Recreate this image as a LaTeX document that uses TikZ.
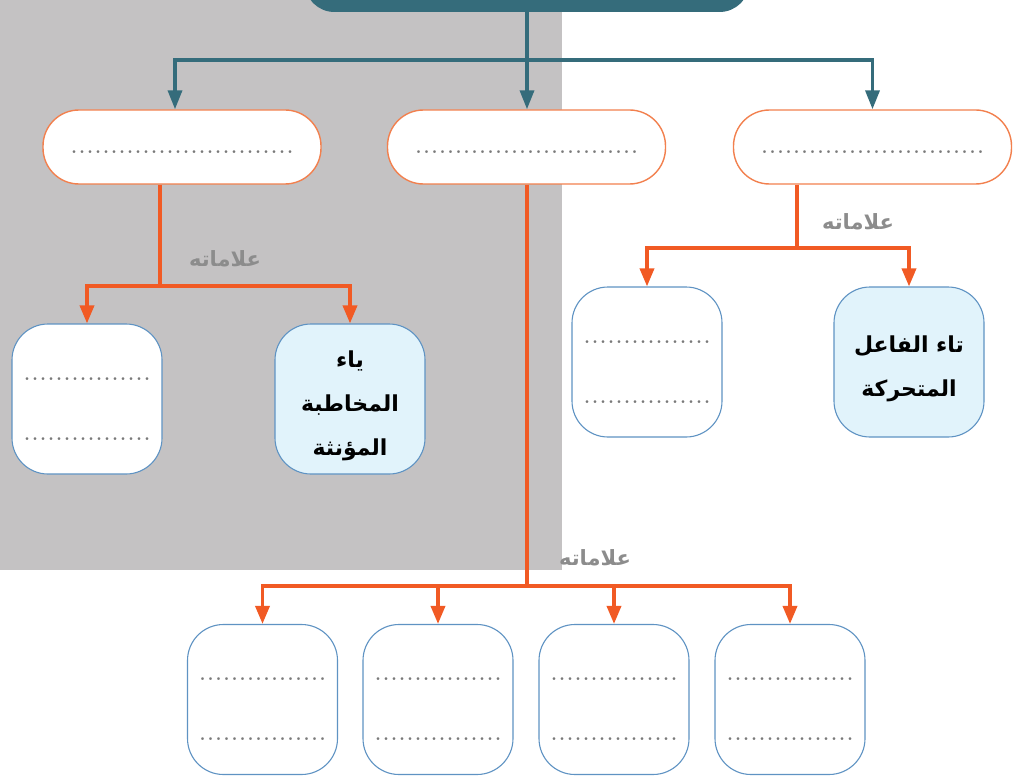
\documentclass[tikz,border=0pt]{standalone}
\usepackage{fontspec}
\usetikzlibrary{arrows.meta,calc}
\newfontfamily\arabicfont[Script=Arabic]{DejaVu Sans}
\TeXXeTstate=1
\newcommand{\ar}[1]{\beginR#1\endR}
\newcommand{\dotrow}[1]{\foreach \k in {1,...,#1}{\makebox[8pt]{.}}}
\newcommand{\lift}{\rule{0pt}{31pt}}
\definecolor{tealdark}{HTML}{356C7B}
\definecolor{bggray}{HTML}{C4C2C3}
\definecolor{orangeline}{HTML}{F15A24}
\definecolor{orangeedge}{HTML}{F2804E}
\definecolor{blueedge}{HTML}{5F93C3}
\definecolor{bluefill}{HTML}{E1F3FB}
\definecolor{labelgray}{HTML}{8C8C8C}
\definecolor{dotgray}{HTML}{7A7A7A}

\begin{document}
\begin{tikzpicture}[x=1pt, y=-1pt,
    rootbox/.style={fill=tealdark, rounded corners=30pt, minimum width=445pt, minimum height=64pt},
    pill/.style={draw=orangeedge, line width=1.4pt, fill=white, rounded corners=36pt, minimum width=278pt, minimum height=74pt},
    card/.style={draw=blueedge, line width=1.1pt, fill=white, rounded corners=36pt, minimum width=150pt, minimum height=150pt, inner sep=0pt},
    answer/.style={card, fill=bluefill, font=\arabicfont\bfseries\fontsize{22}{44}\selectfont, align=center},
    dots/.style={text=dotgray, font=\fontsize{34}{34}\selectfont, anchor=base, inner sep=0pt},
    marks/.style={text=labelgray, font=\arabicfont\bfseries\fontsize{21}{21}\selectfont},
    tealarrow/.style={draw=tealdark, line width=3.5pt, -{Triangle[width=14pt,length=19pt]}},
    branch/.style={draw=orangeline, line width=3.5pt},
    orangearrow/.style={branch, -{Triangle[width=14pt,length=18pt]}}
]
\useasboundingbox (0,0) rectangle (1014,778);
\clip (0,0) rectangle (1014,778);

% grey panel behind the left half
\fill[bggray] (0,0) rectangle (562,570);

\node[rootbox] (top) at (527,-20) {};

\node[pill] (left) at (182,147) {};
\node[pill] (mid) at (526.5,147) {};
\node[pill] (right) at (872.5,147) {};

\node[card] (la) at (87,399) {};
\node[answer] (lb) at (350,399) {\lift\ar{ياء}\\\ar{المخاطبة}\\\ar{المؤنثة}};

\node[card] (ra) at (647,362) {};
\node[answer] (rb) at (909,362) {\lift\ar{تاء الفاعل}\\\ar{المتحركة}};

\foreach \name/\x in {b1/262.5, b2/438, b3/614, b4/790}
    \node[card] (\name) at (\x,699.5) {};

% blank lines to fill in
\foreach \name in {left,mid,right}
    \node[dots] (\name-dots) at ($(\name)+(0,7)$) {\dotrow{28}};
\foreach \name in {la,ra,b1,b2,b3,b4} {
    \node[dots] (\name-up) at ($(\name)+(0,-19)$) {\dotrow{16}};
    \node[dots] (\name-dn) at ($(\name)+(0,41)$) {\dotrow{16}};
}

% top level
\coordinate (tsplit) at (527,60);
\draw[tealarrow] (top.south) -- (top.south |- mid.north);
\draw[tealarrow] (tsplit) -| ([xshift=-7pt]left.north);
\draw[tealarrow] (tsplit) -| (right.north);

% left branch
\coordinate (lsplit) at (160,286);
\draw[branch] (left.south -| lsplit) -- (lsplit);
\draw[orangearrow] (lsplit) -| (la.north);
\draw[orangearrow] (lsplit) -| (lb.north);
\node[marks] (lmarks) at (225,259) {\ar{علاماته}};

% right branch
\coordinate (rsplit) at (797,248);
\draw[branch] (right.south -| rsplit) -- (rsplit);
\draw[orangearrow] (rsplit) -| (ra.north);
\draw[orangearrow] (rsplit) -| (rb.north);
\node[marks] (rmarks) at (858,222) {\ar{علاماته}};

% middle branch
\coordinate (msplit) at (527,586);
\draw[branch] (mid.south -| msplit) -- (msplit);
\foreach \name in {b1,b2,b3,b4}
    \draw[orangearrow] (msplit) -| (\name.north);
\node[marks] (mmarks) at (595,558) {\ar{علاماته}};

\end{tikzpicture}
\end{document}
